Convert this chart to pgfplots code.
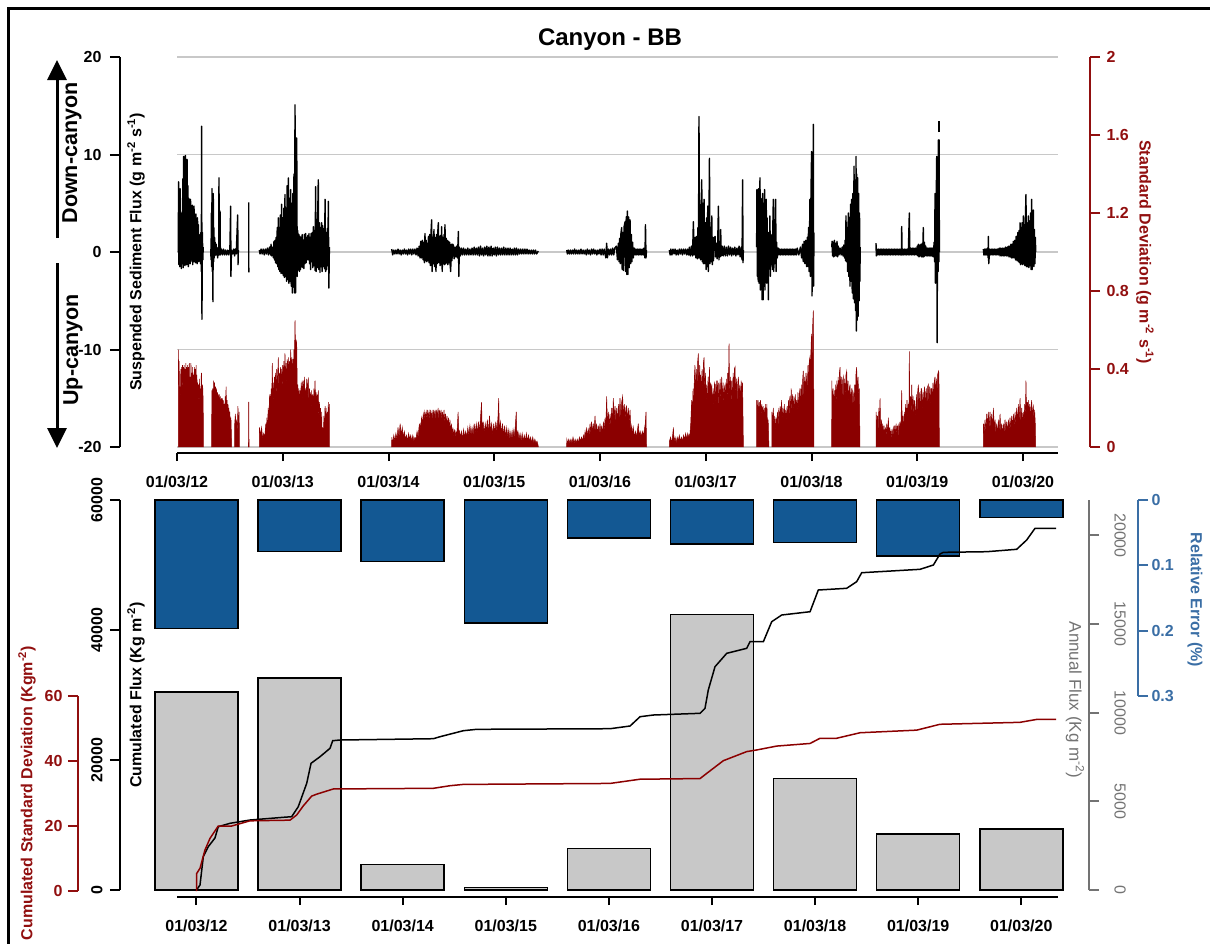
\documentclass[border=0pt]{standalone}
\usepackage{fontspec}
\setmainfont{Liberation Sans}
\usepackage{pgfplots}
\pgfplotsset{compat=1.18}
\usetikzlibrary{arrows.meta}

\definecolor{dred}{RGB}{139,0,0}
\definecolor{axred}{RGB}{145,15,15}
\definecolor{barblue}{RGB}{19,88,147}
\definecolor{axblue}{RGB}{58,110,165}
\definecolor{bargray}{RGB}{200,200,200}
\definecolor{axgray}{RGB}{115,115,115}
\definecolor{gridgray}{RGB}{200,200,200}

\newcommand\tkf{\fontsize{16}{19}\selectfont\bfseries}

\pgfplotsset{
  base/.style={scale only axis, clip=false, scaled ticks=false},
  dat/.style={base, hide axis},
  yax/.style={base, width=10pt, xmin=0, xmax=1, hide x axis, tick align=outside,
    major tick length=10pt, axis line style={line width=2pt}, tick style={line width=2pt}},
  xax/.style={base, height=10pt, ymin=0, ymax=1, hide y axis, axis x line*=bottom,
    tick align=outside, major tick length=8pt, axis line style={line width=2pt},
    tick style={line width=2pt, black}, xtick={0,...,8},
    xticklabels={01/03/12,01/03/13,01/03/14,01/03/15,01/03/16,01/03/17,01/03/18,01/03/19,01/03/20},
    xticklabel style={font=\tkf}, xticklabel shift=11pt},
  redfill/.style={draw=dred, fill=dred, line width=0.5pt},
  blk/.style={black, line width=1.4pt, line join=round},
}

\begin{document}
\begin{tikzpicture}
\useasboundingbox (0pt,0pt) rectangle (1210pt,-943pt);
\clip (0pt,0pt) rectangle (1210pt,-943pt);

% ================= TOP PANEL =================
% standard deviation (red) + grid
\begin{axis}[base, at={(177pt,-447pt)}, anchor=south west, width=881pt, height=390pt,
  xmin=0, xmax=8.331, ymin=0, ymax=2,
  axis line style={draw=none}, tick style={draw=none},
  xtick=\empty, ytick={0,0.5,1,1.5,2}, yticklabels={},
  ymajorgrids, grid style={gridgray, line width=1.6pt}]
\addplot[redfill] coordinates {(0.012,0) (0.013,0.50) (0.017,0.32) (0.020,0.44) (0.024,0.28) (0.028,0.31) (0.032,0.22) (0.036,0.40) (0.040,0.30) (0.044,0.41) (0.048,0.25) (0.052,0.42) (0.056,0.33) (0.060,0.41) (0.064,0.28) (0.068,0.42) (0.072,0.30) (0.076,0.40) (0.080,0.24) (0.084,0.43) (0.088,0.30) (0.092,0.41) (0.096,0.35) (0.100,0.42) (0.104,0.27) (0.108,0.41) (0.112,0.33) (0.116,0.43) (0.120,0.30) (0.124,0.36) (0.128,0.25) (0.132,0.43) (0.136,0.31) (0.140,0.38) (0.144,0.28) (0.148,0.41) (0.152,0.30) (0.156,0.37) (0.160,0.26) (0.164,0.41) (0.168,0.31) (0.172,0.40) (0.176,0.22) (0.180,0.42) (0.184,0.32) (0.188,0.37) (0.192,0.28) (0.196,0.33) (0.200,0.20) (0.204,0.32) (0.208,0.25) (0.212,0.35) (0.216,0.22) (0.220,0.30) (0.224,0.18) (0.228,0.36) (0.232,0.38) (0.236,0.25) (0.240,0.32) (0.244,0.30) (0.248,0.22) (0.249,0)};
\addplot[redfill] coordinates {(0.328,0) (0.329,0.29) (0.334,0.20) (0.338,0.30) (0.343,0.22) (0.347,0.34) (0.352,0.26) (0.356,0.33) (0.361,0.22) (0.365,0.31) (0.370,0.24) (0.374,0.30) (0.379,0.20) (0.383,0.28) (0.388,0.22) (0.392,0.27) (0.397,0.19) (0.401,0.27) (0.406,0.18) (0.410,0.26) (0.415,0.20) (0.419,0.25) (0.424,0.17) (0.428,0.25) (0.433,0.15) (0.437,0.24) (0.442,0.18) (0.446,0.22) (0.451,0.14) (0.455,0.26) (0.460,0.20) (0.464,0.31) (0.469,0.18) (0.473,0.24) (0.478,0.12) (0.482,0.22) (0.487,0.14) (0.491,0.20) (0.496,0.10) (0.500,0.18) (0.505,0.08) (0.510,0.15) (0.515,0.05) (0.517,0)};
\addplot[redfill] coordinates {(0.545,0) (0.546,0.12) (0.552,0.17) (0.558,0.10) (0.564,0.14) (0.570,0.06) (0.576,0.21) (0.582,0.12) (0.588,0.18) (0.590,0)};
\addplot[redfill] coordinates {(0.676,0) (0.677,0.23) (0.680,0.23) (0.681,0)};
\addplot[redfill] coordinates {(0.779,0) (0.780,0.10) (0.790,0.06) (0.800,0.10) (0.810,0.04) (0.820,0.07) (0.830,0.05) (0.840,0.12) (0.845,0.06) (0.850,0.15) (0.856,0.08) (0.862,0.20) (0.868,0.12) (0.874,0.25) (0.879,0.27) (0.884,0.15) (0.890,0.30) (0.895,0.20) (0.901,0.43) (0.906,0.25) (0.911,0.33) (0.916,0.22) (0.922,0.36) (0.927,0.28) (0.932,0.38) (0.937,0.25) (0.943,0.40) (0.948,0.30) (0.953,0.37) (0.958,0.46) (0.963,0.30) (0.969,0.38) (0.974,0.28) (0.979,0.41) (0.984,0.32) (0.990,0.40) (0.995,0.27) (1.000,0.42) (1.005,0.33) (1.011,0.44) (1.016,0.30) (1.021,0.48) (1.026,0.35) (1.032,0.43) (1.037,0.30) (1.042,0.45) (1.047,0.36) (1.053,0.46) (1.058,0.33) (1.064,0.44) (1.069,0.35) (1.075,0.50) (1.080,0.38) (1.086,0.46) (1.091,0.35) (1.096,0.45) (1.101,0.38) (1.106,0.50) (1.111,0.45) (1.116,0.65) (1.121,0.48) (1.126,0.55) (1.132,0.53) (1.137,0.30) (1.142,0.32) (1.147,0.22) (1.152,0.30) (1.158,0.20) (1.163,0.29) (1.168,0.22) (1.174,0.33) (1.179,0.24) (1.184,0.34) (1.190,0.22) (1.195,0.34) (1.200,0.25) (1.205,0.36) (1.210,0.24) (1.216,0.30) (1.221,0.20) (1.226,0.35) (1.232,0.22) (1.237,0.34) (1.242,0.35) (1.248,0.20) (1.253,0.30) (1.258,0.21) (1.263,0.28) (1.268,0.18) (1.273,0.29) (1.279,0.20) (1.284,0.27) (1.289,0.18) (1.295,0.30) (1.300,0.20) (1.305,0.34) (1.311,0.22) (1.316,0.28) (1.321,0.16) (1.326,0.27) (1.331,0.18) (1.336,0.29) (1.341,0.15) (1.347,0.23) (1.352,0.12) (1.357,0.20) (1.362,0.08) (1.368,0.18) (1.373,0.05) (1.378,0.10) (1.384,0.04) (1.389,0.16) (1.395,0.10) (1.400,0.21) (1.405,0.12) (1.410,0.20) (1.415,0.09) (1.421,0.18) (1.426,0.12) (1.431,0.23) (1.436,0.15) (1.441,0.22) (1.442,0)};
\addplot[redfill] coordinates {(2.030,0) (2.031,0.05) (2.040,0.02) (2.050,0.06) (2.060,0.03) (2.070,0.07) (2.080,0.04) (2.090,0.10) (2.100,0.05) (2.110,0.12) (2.120,0.06) (2.130,0.10) (2.140,0.05) (2.150,0.08) (2.160,0.04) (2.170,0.06) (2.180,0.03) (2.190,0.07) (2.200,0.04) (2.210,0.06) (2.220,0.03) (2.230,0.06) (2.240,0.03) (2.250,0.05) (2.260,0.04) (2.270,0.08) (2.280,0.05) (2.290,0.11) (2.298,0.12) (2.305,0.09) (2.312,0.15) (2.320,0.12) (2.329,0.17) (2.336,0.14) (2.343,0.18) (2.350,0.15) (2.357,0.18) (2.364,0.14) (2.371,0.19) (2.378,0.15) (2.385,0.18) (2.392,0.14) (2.399,0.19) (2.406,0.15) (2.413,0.18) (2.420,0.14) (2.427,0.19) (2.434,0.15) (2.441,0.19) (2.448,0.14) (2.455,0.19) (2.462,0.15) (2.469,0.20) (2.476,0.14) (2.483,0.19) (2.490,0.15) (2.497,0.19) (2.504,0.14) (2.511,0.18) (2.518,0.13) (2.525,0.19) (2.532,0.12) (2.539,0.17) (2.546,0.11) (2.553,0.16) (2.560,0.10) (2.567,0.15) (2.574,0.09) (2.581,0.14) (2.588,0.07) (2.595,0.12) (2.602,0.06) (2.609,0.10) (2.616,0.05) (2.623,0.09) (2.630,0.05) (2.637,0.08) (2.645,0.06) (2.652,0.11) (2.658,0.18) (2.664,0.09) (2.672,0.08) (2.680,0.05) (2.690,0.08) (2.700,0.04) (2.710,0.09) (2.720,0.05) (2.730,0.08) (2.740,0.05) (2.750,0.10) (2.760,0.06) (2.770,0.11) (2.780,0.06) (2.790,0.10) (2.800,0.06) (2.810,0.12) (2.820,0.07) (2.830,0.12) (2.840,0.07) (2.850,0.13) (2.860,0.08) (2.870,0.15) (2.880,0.23) (2.886,0.08) (2.895,0.13) (2.905,0.07) (2.915,0.12) (2.925,0.08) (2.935,0.14) (2.945,0.07) (2.955,0.16) (2.965,0.08) (2.975,0.12) (2.985,0.06) (2.995,0.12) (3.005,0.07) (3.015,0.13) (3.025,0.08) (3.035,0.15) (3.042,0.25) (3.048,0.09) (3.058,0.13) (3.068,0.07) (3.078,0.12) (3.088,0.06) (3.098,0.11) (3.108,0.05) (3.118,0.10) (3.128,0.05) (3.138,0.09) (3.148,0.04) (3.158,0.08) (3.168,0.04) (3.178,0.09) (3.188,0.05) (3.198,0.10) (3.208,0.18) (3.214,0.06) (3.224,0.08) (3.234,0.04) (3.244,0.07) (3.254,0.03) (3.264,0.07) (3.274,0.03) (3.284,0.06) (3.294,0.03) (3.304,0.07) (3.314,0.03) (3.324,0.06) (3.334,0.03) (3.344,0.05) (3.354,0.02) (3.364,0.05) (3.374,0.02) (3.384,0.04) (3.394,0.02) (3.404,0.03) (3.414,0.01) (3.417,0)};
\addplot[redfill] coordinates {(3.685,0) (3.686,0.04) (3.695,0.02) (3.705,0.04) (3.715,0.02) (3.725,0.04) (3.735,0.02) (3.745,0.05) (3.755,0.02) (3.765,0.04) (3.775,0.02) (3.785,0.04) (3.795,0.02) (3.805,0.05) (3.815,0.03) (3.825,0.05) (3.835,0.03) (3.843,0.06) (3.851,0.04) (3.859,0.08) (3.866,0.05) (3.874,0.10) (3.882,0.05) (3.890,0.09) (3.898,0.06) (3.906,0.12) (3.913,0.06) (3.920,0.13) (3.928,0.07) (3.936,0.12) (3.944,0.08) (3.953,0.16) (3.960,0.08) (3.968,0.12) (3.976,0.06) (3.984,0.11) (3.992,0.07) (4.000,0.12) (4.008,0.07) (4.016,0.11) (4.024,0.06) (4.032,0.13) (4.040,0.08) (4.048,0.15) (4.055,0.10) (4.063,0.26) (4.070,0.12) (4.079,0.18) (4.087,0.10) (4.095,0.17) (4.103,0.11) (4.111,0.20) (4.118,0.12) (4.126,0.25) (4.134,0.14) (4.142,0.21) (4.150,0.13) (4.158,0.20) (4.166,0.12) (4.174,0.22) (4.181,0.14) (4.189,0.25) (4.197,0.15) (4.205,0.23) (4.214,0.26) (4.222,0.15) (4.230,0.22) (4.238,0.14) (4.245,0.20) (4.252,0.21) (4.260,0.13) (4.268,0.20) (4.276,0.12) (4.284,0.19) (4.292,0.08) (4.300,0.11) (4.308,0.06) (4.315,0.10) (4.325,0.05) (4.335,0.08) (4.345,0.05) (4.355,0.09) (4.362,0.12) (4.370,0.06) (4.380,0.08) (4.390,0.05) (4.400,0.08) (4.410,0.06) (4.420,0.09) (4.428,0.12) (4.435,0.18) (4.440,0)};
\addplot[redfill] coordinates {(4.656,0) (4.657,0.03) (4.667,0.05) (4.677,0.02) (4.687,0.06) (4.694,0.10) (4.700,0.03) (4.710,0.05) (4.720,0.02) (4.730,0.05) (4.740,0.03) (4.750,0.06) (4.760,0.03) (4.770,0.05) (4.780,0.03) (4.790,0.06) (4.800,0.04) (4.810,0.07) (4.820,0.04) (4.830,0.07) (4.840,0.05) (4.851,0.07) (4.858,0.12) (4.867,0.24) (4.873,0.15) (4.880,0.30) (4.886,0.18) (4.892,0.35) (4.898,0.42) (4.904,0.25) (4.911,0.40) (4.917,0.28) (4.924,0.44) (4.930,0.48) (4.936,0.30) (4.943,0.42) (4.949,0.30) (4.952,0.37) (4.958,0.25) (4.965,0.40) (4.971,0.28) (4.978,0.43) (4.984,0.46) (4.990,0.28) (4.997,0.38) (5.003,0.22) (5.009,0.32) (5.016,0.20) (5.022,0.36) (5.028,0.25) (5.035,0.41) (5.041,0.22) (5.047,0.33) (5.053,0.20) (5.057,0.32) (5.064,0.18) (5.070,0.30) (5.077,0.20) (5.083,0.33) (5.088,0.32) (5.094,0.20) (5.100,0.34) (5.106,0.22) (5.110,0.34) (5.117,0.20) (5.123,0.33) (5.130,0.22) (5.136,0.35) (5.142,0.23) (5.151,0.36) (5.157,0.22) (5.164,0.33) (5.170,0.20) (5.176,0.30) (5.183,0.32) (5.189,0.20) (5.195,0.35) (5.201,0.22) (5.208,0.38) (5.214,0.25) (5.220,0.53) (5.226,0.25) (5.233,0.36) (5.240,0.22) (5.246,0.34) (5.252,0.24) (5.259,0.38) (5.265,0.25) (5.271,0.40) (5.277,0.41) (5.283,0.25) (5.290,0.35) (5.296,0.22) (5.303,0.33) (5.309,0.36) (5.315,0.24) (5.322,0.32) (5.328,0.22) (5.335,0.34) (5.340,0.28) (5.348,0.33) (5.356,0)};
\addplot[redfill] coordinates {(5.481,0) (5.482,0.24) (5.488,0.18) (5.494,0.24) (5.500,0.16) (5.506,0.23) (5.512,0.17) (5.518,0.24) (5.524,0.15) (5.530,0.22) (5.536,0.16) (5.542,0.21) (5.548,0.14) (5.554,0.20) (5.560,0.12) (5.566,0.22) (5.572,0.13) (5.578,0.22) (5.584,0.10) (5.590,0.14) (5.595,0.05) (5.597,0)};
\addplot[redfill] coordinates {(5.625,0) (5.626,0.18) (5.632,0.12) (5.639,0.20) (5.645,0.10) (5.652,0.16) (5.658,0.08) (5.665,0.15) (5.671,0.12) (5.678,0.18) (5.684,0.10) (5.691,0.20) (5.697,0.12) (5.704,0.21) (5.710,0.14) (5.717,0.24) (5.723,0.13) (5.730,0.20) (5.736,0.12) (5.743,0.22) (5.749,0.13) (5.756,0.19) (5.762,0.13) (5.769,0.21) (5.775,0.14) (5.782,0.24) (5.788,0.15) (5.795,0.26) (5.801,0.17) (5.808,0.30) (5.814,0.18) (5.821,0.27) (5.827,0.17) (5.834,0.26) (5.840,0.16) (5.847,0.27) (5.853,0.18) (5.859,0.24) (5.866,0.17) (5.872,0.28) (5.879,0.18) (5.885,0.27) (5.891,0.30) (5.897,0.20) (5.904,0.32) (5.910,0.22) (5.916,0.34) (5.922,0.39) (5.928,0.24) (5.935,0.36) (5.941,0.25) (5.948,0.38) (5.954,0.34) (5.960,0.30) (5.967,0.42) (5.973,0.32) (5.979,0.44) (5.985,0.46) (5.991,0.38) (5.996,0.52) (6.001,0.58) (6.006,0.45) (6.011,0.62) (6.017,0.70) (6.020,0.50) (6.023,0)};
\addplot[redfill] coordinates {(6.191,0) (6.192,0.34) (6.198,0.20) (6.204,0.30) (6.210,0.18) (6.216,0.29) (6.222,0.17) (6.228,0.32) (6.234,0.20) (6.240,0.34) (6.246,0.22) (6.252,0.36) (6.258,0.24) (6.264,0.38) (6.270,0.41) (6.276,0.25) (6.282,0.36) (6.288,0.22) (6.294,0.34) (6.301,0.36) (6.307,0.22) (6.313,0.35) (6.319,0.24) (6.326,0.37) (6.333,0.39) (6.339,0.24) (6.345,0.34) (6.351,0.22) (6.358,0.30) (6.364,0.32) (6.370,0.20) (6.377,0.30) (6.383,0.20) (6.390,0.29) (6.396,0.27) (6.402,0.20) (6.409,0.32) (6.415,0.24) (6.421,0.38) (6.427,0.41) (6.433,0.28) (6.440,0.36) (6.446,0.25) (6.452,0.30) (6.456,0.12) (6.458,0)};
\addplot[redfill] coordinates {(6.610,0) (6.611,0.18) (6.617,0.10) (6.624,0.16) (6.630,0.08) (6.637,0.20) (6.643,0.12) (6.648,0.25) (6.654,0.10) (6.661,0.14) (6.667,0.07) (6.673,0.12) (6.679,0.06) (6.686,0.11) (6.692,0.05) (6.699,0.10) (6.705,0.05) (6.712,0.12) (6.718,0.06) (6.727,0.15) (6.733,0.06) (6.740,0.10) (6.746,0.05) (6.753,0.09) (6.759,0.04) (6.766,0.08) (6.774,0.10) (6.780,0.05) (6.787,0.11) (6.793,0.06) (6.800,0.12) (6.806,0.06) (6.813,0.11) (6.819,0.05) (6.826,0.12) (6.832,0.07) (6.837,0.13) (6.845,0.09) (6.853,0.29) (6.858,0.10) (6.865,0.16) (6.871,0.08) (6.878,0.18) (6.884,0.13) (6.890,0.22) (6.896,0.12) (6.903,0.24) (6.909,0.14) (6.915,0.22) (6.921,0.15) (6.925,0.49) (6.930,0.18) (6.936,0.26) (6.942,0.16) (6.948,0.32) (6.954,0.18) (6.961,0.26) (6.967,0.15) (6.973,0.24) (6.980,0.20) (6.986,0.14) (6.992,0.27) (6.998,0.16) (7.005,0.29) (7.011,0.32) (7.017,0.18) (7.023,0.28) (7.030,0.17) (7.036,0.30) (7.042,0.30) (7.048,0.18) (7.055,0.28) (7.061,0.19) (7.067,0.31) (7.073,0.29) (7.080,0.19) (7.086,0.30) (7.092,0.20) (7.099,0.31) (7.105,0.32) (7.111,0.20) (7.118,0.31) (7.124,0.21) (7.130,0.30) (7.137,0.30) (7.143,0.22) (7.149,0.33) (7.155,0.24) (7.162,0.34) (7.168,0.36) (7.174,0.25) (7.181,0.35) (7.187,0.27) (7.193,0.37) (7.200,0.39) (7.205,0.38) (7.209,0)};
\addplot[redfill] coordinates {(7.625,0) (7.626,0.12) (7.633,0.07) (7.641,0.14) (7.649,0.08) (7.657,0.17) (7.665,0.10) (7.672,0.18) (7.680,0.09) (7.688,0.18) (7.696,0.10) (7.704,0.17) (7.712,0.09) (7.720,0.20) (7.728,0.10) (7.736,0.14) (7.743,0.07) (7.751,0.12) (7.759,0.06) (7.767,0.14) (7.775,0.08) (7.783,0.17) (7.790,0.08) (7.798,0.12) (7.806,0.06) (7.814,0.12) (7.822,0.07) (7.830,0.14) (7.838,0.08) (7.846,0.13) (7.854,0.07) (7.862,0.14) (7.870,0.08) (7.877,0.15) (7.885,0.09) (7.893,0.16) (7.901,0.10) (7.909,0.17) (7.917,0.10) (7.925,0.18) (7.932,0.11) (7.940,0.20) (7.948,0.12) (7.956,0.22) (7.964,0.13) (7.972,0.25) (7.980,0.12) (7.988,0.20) (7.996,0.12) (8.003,0.18) (8.010,0.12) (8.016,0.22) (8.022,0.14) (8.028,0.34) (8.034,0.15) (8.040,0.23) (8.045,0.14) (8.050,0.24) (8.056,0.15) (8.063,0.22) (8.070,0.14) (8.076,0.21) (8.082,0.24) (8.088,0.14) (8.094,0.20) (8.098,0.21) (8.104,0.13) (8.110,0.19) (8.116,0.12) (8.120,0)};
\end{axis}

% suspended sediment flux (black)
\begin{axis}[dat, at={(177pt,-447pt)}, anchor=south west, width=881pt, height=390pt,
  xmin=0, xmax=8.331, ymin=-20, ymax=20]
\addplot[blk] coordinates {(0.012,0) (0.015,7.2) (0.018,-1.3) (0.022,3) (0.026,-1.5) (0.030,6.5) (0.034,-1.4) (0.038,2.5) (0.042,-1.7) (0.046,4) (0.050,-1.2) (0.055,7.5) (0.059,-1.6) (0.063,9.8) (0.067,-1.2) (0.071,5) (0.075,-1.4) (0.079,9.9) (0.083,-1) (0.087,6) (0.091,-1.3) (0.095,9.5) (0.099,-1.1) (0.103,6.8) (0.107,-1.5) (0.112,5.5) (0.116,-0.9) (0.120,4.2) (0.124,-1.2) (0.128,5.4) (0.132,-1) (0.137,3.5) (0.141,-0.8) (0.145,4.8) (0.149,-1.3) (0.153,3) (0.157,-1) (0.161,4.7) (0.165,-0.8) (0.170,3.2) (0.174,-1.1) (0.178,3.9) (0.182,-0.9) (0.186,2.5) (0.190,-1.2) (0.194,3.5) (0.198,-0.8) (0.202,2.8) (0.206,-1) (0.210,1.5) (0.214,-0.6) (0.218,1.8) (0.222,-1.2) (0.226,2) (0.230,-2) (0.233,12.9) (0.236,-6.9) (0.240,2) (0.244,-0.8) (0.248,0.5)};
\addplot[blk] coordinates {(0.319,0.3) (0.322,-0.8) (0.325,4) (0.328,-1.5) (0.331,6.5) (0.334,-2) (0.337,3) (0.340,-5.1) (0.343,6) (0.346,-1) (0.349,2.5) (0.352,-0.6) (0.355,1.5) (0.358,-0.4) (0.362,1) (0.365,-0.3) (0.370,0.8) (0.374,-0.3) (0.380,0.4) (0.385,-0.6) (0.390,0.5) (0.394,-0.3) (0.397,7.6) (0.400,-0.3) (0.407,4.2) (0.410,-0.3) (0.420,0.3) (0.430,-0.3) (0.440,0.3) (0.450,-0.3) (0.460,0.2) (0.470,-0.3) (0.480,0.2) (0.490,-0.3) (0.500,0.3) (0.5075,4.7) (0.510,-2.5) (0.515,0.2) (0.525,-0.2) (0.535,0.3) (0.545,-0.4) (0.552,0.3) (0.560,-0.2) (0.574,3.8) (0.577,-1.3) (0.580,0.2)};
\addplot[blk] coordinates {(0.678,5.1) (0.679,-2.1)};
\addplot[blk] coordinates {(0.779,0.2) (0.785,-0.2) (0.795,0.3) (0.805,-0.2) (0.815,0.3) (0.825,-0.3) (0.835,0.3) (0.845,-0.2) (0.855,0.4) (0.865,-0.3) (0.875,0.5) (0.885,-0.3) (0.889,0.8) (0.895,-0.4) (0.905,0.5) (0.911,-0.6) (0.917,1.1) (0.922,-0.8) (0.927,1.2) (0.932,-1.1) (0.938,1.5) (0.942,-1.2) (0.948,2.5) (0.953,-1.5) (0.958,3.5) (0.963,-1.8) (0.968,2.5) (0.973,-2) (0.978,3.8) (0.984,-2.2) (0.990,4.9) (0.995,-2.2) (1.000,3.5) (1.005,-2.4) (1.011,4.5) (1.016,-2.6) (1.021,5.9) (1.026,-2.5) (1.032,4.5) (1.037,-3) (1.042,6.8) (1.047,-2.8) (1.053,7.6) (1.058,-3.2) (1.064,5.5) (1.069,-3) (1.075,6.4) (1.080,-3.5) (1.086,5) (1.091,-4.2) (1.096,6) (1.101,-3.6) (1.106,8) (1.111,-4.2) (1.116,15.1) (1.121,-4.2) (1.126,9) (1.132,11.7) (1.137,-2.5) (1.142,2.2) (1.147,-1.8) (1.152,1.8) (1.158,-2) (1.163,1.6) (1.168,-1.8) (1.174,1.5) (1.179,-1.5) (1.184,1.8) (1.190,-1.6) (1.195,1.2) (1.200,-1.7) (1.205,1.8) (1.210,-1.2) (1.216,1.9) (1.221,-1.1) (1.226,1.5) (1.232,-0.8) (1.237,1.7) (1.242,-0.8) (1.248,1.9) (1.253,-1.2) (1.258,1.5) (1.263,-1.8) (1.268,1.9) (1.273,-1) (1.279,2) (1.284,-1.6) (1.289,2.6) (1.295,-1.4) (1.300,2.2) (1.305,-1.9) (1.311,6.7) (1.316,-2) (1.321,3) (1.326,-1.6) (1.331,4) (1.336,7.4) (1.341,-1.8) (1.347,3) (1.352,-2.1) (1.357,2.5) (1.362,-1.5) (1.368,3) (1.373,-2) (1.378,2.7) (1.384,-1.5) (1.389,2.4) (1.395,-1.7) (1.400,5.4) (1.405,-2) (1.410,2) (1.415,-1.8) (1.421,2.4) (1.426,-1.4) (1.431,5.2) (1.436,-3.7) (1.441,0.5)};
\addplot[blk] coordinates {(2.030,0.3) (2.040,-0.3) (2.050,0.2) (2.060,-0.2) (2.070,0.2) (2.080,-0.2) (2.090,0.3) (2.100,-0.2) (2.110,0.2) (2.120,-0.3) (2.130,0.2) (2.140,-0.2) (2.150,0.3) (2.160,-0.2) (2.170,0.2) (2.180,-0.3) (2.190,0.3) (2.200,-0.2) (2.210,0.3) (2.220,-0.3) (2.230,0.3) (2.240,-0.2) (2.250,0.3) (2.260,-0.3) (2.270,0.4) (2.280,-0.4) (2.290,0.6) (2.298,-0.6) (2.305,1.1) (2.312,-0.6) (2.320,1.2) (2.328,-0.8) (2.335,1) (2.340,-1.1) (2.345,1.9) (2.350,-0.9) (2.356,1.2) (2.362,-1) (2.367,0.9) (2.372,-0.9) (2.378,1.6) (2.384,-1.1) (2.390,1.8) (2.396,-1.4) (2.402,2) (2.408,3.3) (2.413,-2) (2.418,1.5) (2.424,-1.2) (2.430,2.3) (2.436,-1.5) (2.441,1.5) (2.449,-2) (2.455,1.8) (2.461,-1.2) (2.466,2) (2.471,3) (2.476,-1.1) (2.482,1.6) (2.488,-1.4) (2.493,1.7) (2.498,-1.3) (2.503,2.6) (2.508,-2) (2.514,1.5) (2.519,-1.2) (2.525,1.8) (2.530,-1.3) (2.534,2.8) (2.540,-1.2) (2.546,1.4) (2.551,-1.1) (2.556,1.2) (2.561,-1.3) (2.566,1.1) (2.572,-1.1) (2.578,1) (2.583,-1.3) (2.588,-2) (2.594,0.8) (2.600,-0.9) (2.606,0.8) (2.613,0.7) (2.620,-0.7) (2.628,0.5) (2.636,-0.5) (2.645,0.6) (2.652,-0.6) (2.661,2.1) (2.665,-2.5) (2.670,0.5) (2.680,-0.4) (2.690,0.4) (2.700,-0.3) (2.710,0.4) (2.720,-0.3) (2.730,0.3) (2.740,-0.3) (2.750,0.4) (2.760,-0.3) (2.770,0.3) (2.780,-0.3) (2.790,0.4) (2.800,-0.3) (2.810,0.5) (2.820,-0.3) (2.830,0.4) (2.840,-0.3) (2.850,0.5) (2.860,-0.4) (2.870,0.6) (2.880,-0.3) (2.890,0.4) (2.900,-0.4) (2.910,0.5) (2.920,-0.3) (2.930,0.6) (2.940,-0.4) (2.950,0.5) (2.960,-0.4) (2.970,0.6) (2.980,-0.4) (2.990,0.4) (3.000,-0.3) (3.010,0.5) (3.020,-0.4) (3.030,0.5) (3.040,-0.3) (3.050,0.4) (3.060,-0.3) (3.070,0.4) (3.080,-0.3) (3.090,0.5) (3.100,-0.3) (3.110,0.4) (3.120,-0.3) (3.130,0.4) (3.140,-0.3) (3.150,0.4) (3.160,-0.3) (3.170,0.3) (3.180,-0.3) (3.190,0.4) (3.200,-0.3) (3.210,0.4) (3.220,-0.3) (3.230,0.3) (3.240,-0.2) (3.250,0.3) (3.260,-0.2) (3.270,0.3) (3.280,-0.2) (3.290,0.3) (3.300,-0.2) (3.310,0.3) (3.320,-0.2) (3.330,0.2) (3.340,-0.2) (3.350,0.2) (3.360,-0.2) (3.370,0.2) (3.380,-0.2) (3.390,0.2) (3.400,-0.2) (3.417,0.1)};
\addplot[blk] coordinates {(3.685,0.2) (3.692,-0.2) (3.700,0.2) (3.710,-0.2) (3.720,0.2) (3.730,-0.2) (3.740,0.2) (3.750,-0.2) (3.760,0.3) (3.770,-0.2) (3.780,0.2) (3.790,-0.2) (3.800,0.2) (3.810,-0.2) (3.820,0.3) (3.830,-0.2) (3.840,0.2) (3.850,-0.2) (3.860,0.2) (3.870,-0.3) (3.880,0.3) (3.890,-0.2) (3.900,0.2) (3.910,-0.3) (3.920,0.3) (3.930,-0.2) (3.940,0.3) (3.950,-0.2) (3.960,0.2) (3.970,-0.3) (3.980,0.2) (3.990,-0.2) (4.000,0.3) (4.010,-0.3) (4.020,0.3) (4.030,-0.3) (4.040,0.3) (4.055,-0.6) (4.063,0.9) (4.070,-0.6) (4.080,0.3) (4.090,-0.3) (4.100,0.3) (4.110,-0.3) (4.120,0.4) (4.130,-0.3) (4.140,0.4) (4.155,0.6) (4.165,-0.8) (4.174,0.9) (4.180,-1) (4.186,1.4) (4.192,-1.2) (4.198,1.9) (4.205,2.5) (4.210,-1.8) (4.216,2) (4.222,-1.9) (4.228,2.6) (4.237,3.1) (4.242,-2) (4.248,3.6) (4.254,-2.3) (4.259,4.2) (4.264,-2.3) (4.270,3.6) (4.276,-1.6) (4.284,3.3) (4.290,-1.2) (4.296,1.8) (4.302,-1) (4.308,1) (4.315,-0.6) (4.325,0.4) (4.333,-0.3) (4.340,0.3) (4.348,-0.3) (4.355,0.3) (4.363,-0.3) (4.370,0.3) (4.378,-0.3) (4.385,0.3) (4.393,-0.3) (4.400,0.3) (4.408,-0.3) (4.415,0.4) (4.425,-0.6) (4.430,2.8) (4.435,-0.6) (4.440,0.2)};
\addplot[blk] coordinates {(4.656,0.2) (4.663,-0.3) (4.670,0.3) (4.680,-0.3) (4.690,0.3) (4.700,-0.2) (4.710,0.3) (4.720,-0.3) (4.730,0.2) (4.740,-0.3) (4.750,0.3) (4.760,-0.2) (4.770,0.3) (4.780,-0.3) (4.790,0.3) (4.800,-0.2) (4.810,0.3) (4.820,-0.3) (4.830,0.3) (4.838,-0.3) (4.845,0.5) (4.855,-0.4) (4.865,0.6) (4.875,-0.4) (4.883,3.1) (4.890,-0.3) (4.900,1.5) (4.907,-0.6) (4.914,1.6) (4.920,-0.7) (4.926,2.5) (4.931,-0.6) (4.936,13.9) (4.941,-0.6) (4.947,4) (4.952,-0.8) (4.957,5) (4.962,7.4) (4.967,-1) (4.973,5) (4.978,-1.2) (4.984,5.4) (4.990,-1.2) (4.996,3) (5.003,-1.8) (5.008,3.5) (5.013,-1.5) (5.019,4.7) (5.024,-2) (5.030,3) (5.035,9.6) (5.040,-1.2) (5.046,2.5) (5.051,-1) (5.057,3.7) (5.062,-1.3) (5.068,1.5) (5.073,-0.9) (5.080,1.4) (5.088,1.6) (5.094,-0.5) (5.100,0.9) (5.107,-0.7) (5.113,1) (5.120,4.7) (5.125,-0.8) (5.131,0.8) (5.136,-0.5) (5.141,2.3) (5.147,-0.4) (5.155,0.6) (5.165,-0.4) (5.175,0.6) (5.185,-0.4) (5.195,0.5) (5.205,-0.4) (5.215,0.6) (5.225,-0.3) (5.235,0.5) (5.245,-0.4) (5.255,0.4) (5.265,-0.3) (5.275,0.5) (5.285,-0.4) (5.295,0.4) (5.305,-0.3) (5.315,0.6) (5.325,-0.5) (5.335,0.5) (5.343,-0.8) (5.349,7.4) (5.352,-1.1) (5.356,0.2)};
\addplot[blk] coordinates {(5.481,0.5) (5.484,6.4) (5.488,-2.5) (5.492,5) (5.496,-3) (5.500,6.5) (5.504,-3.2) (5.508,5) (5.513,7.6) (5.517,-3.9) (5.521,5.5) (5.525,-3.5) (5.529,5) (5.533,-4.9) (5.538,6) (5.542,-4.9) (5.547,5) (5.551,-3.5) (5.556,6.4) (5.560,-3.9) (5.564,4.5) (5.568,-3) (5.572,5.4) (5.576,-3.2) (5.580,3.5) (5.584,-2.5) (5.588,2) (5.592,-4.9) (5.596,2) (5.600,-1.5) (5.604,1) (5.607,3.7) (5.611,-2.5) (5.616,1.5) (5.621,-1.3) (5.626,1.8) (5.631,-1.8) (5.635,3) (5.639,5.4) (5.643,-2) (5.648,2) (5.652,-1.2) (5.657,3.7) (5.661,5.4) (5.665,-2) (5.670,1) (5.676,-0.6) (5.686,0.4) (5.693,-0.3) (5.700,0.3) (5.708,-0.3) (5.715,0.3) (5.723,-0.3) (5.730,0.3) (5.738,-0.3) (5.745,0.3) (5.753,-0.3) (5.760,0.3) (5.768,-0.3) (5.775,0.3) (5.783,-0.3) (5.790,0.3) (5.798,-0.3) (5.805,0.3) (5.813,-0.3) (5.820,0.3) (5.828,-0.3) (5.835,0.3) (5.843,-0.3) (5.850,0.3) (5.858,-0.3) (5.865,0.4) (5.880,-0.3) (5.895,0.5) (5.907,-0.6) (5.915,0.8) (5.922,-1) (5.930,1.1) (5.938,-1.2) (5.946,1.2) (5.954,-1.5) (5.960,1.5) (5.966,-1.5) (5.972,2.5) (5.978,-2) (5.985,5.4) (5.990,-2.5) (5.995,6) (6.001,10.3) (6.005,-4.5) (6.009,8) (6.013,-3.5) (6.017,13.1) (6.020,-3.5) (6.023,2)};
\addplot[blk] coordinates {(6.191,0.5) (6.195,1.1) (6.199,-0.4) (6.205,1) (6.211,-0.5) (6.217,1.2) (6.223,-0.4) (6.229,0.9) (6.235,-0.4) (6.241,1.1) (6.247,-0.5) (6.253,0.6) (6.260,-0.3) (6.270,0.4) (6.280,-0.3) (6.290,0.5) (6.298,-0.4) (6.305,0.7) (6.312,-0.6) (6.318,1.2) (6.323,-0.9) (6.326,3.7) (6.331,-1) (6.336,2.5) (6.341,-2) (6.348,4) (6.352,-2.5) (6.358,3.5) (6.364,-3.5) (6.369,4.9) (6.374,-3) (6.380,5.4) (6.385,-4.2) (6.391,6) (6.396,-4.8) (6.402,8.8) (6.407,-5.2) (6.412,7) (6.416,-6) (6.421,9.8) (6.424,-8.1) (6.428,8) (6.432,-7) (6.437,7.6) (6.441,-6.6) (6.446,6) (6.450,-5) (6.454,4) (6.458,-3) (6.460,0.5)};
\addplot[blk] coordinates {(6.610,0.9) (6.613,-0.4) (6.620,0.3) (6.628,-0.3) (6.635,0.3) (6.643,-0.3) (6.650,0.3) (6.658,-0.3) (6.665,0.3) (6.673,-0.3) (6.680,0.3) (6.688,-0.3) (6.695,0.3) (6.703,-0.3) (6.710,0.3) (6.718,-0.3) (6.725,0.3) (6.733,-0.3) (6.740,0.3) (6.748,-0.3) (6.755,0.3) (6.763,-0.3) (6.770,0.3) (6.778,-0.3) (6.785,0.3) (6.793,-0.3) (6.800,0.3) (6.808,-0.3) (6.815,0.3) (6.823,-0.3) (6.830,0.3) (6.838,-0.3) (6.845,0.3) (6.850,-0.3) (6.853,2.6) (6.857,-0.3) (6.863,0.3) (6.870,-0.3) (6.878,0.3) (6.885,-0.3) (6.893,0.3) (6.900,-0.3) (6.908,0.3) (6.915,-0.3) (6.925,4) (6.930,-0.3) (6.938,0.4) (6.945,-0.3) (6.953,0.4) (6.960,-0.3) (6.968,0.4) (6.975,-0.3) (6.983,0.4) (6.990,-0.3) (7.000,0.6) (7.006,-0.4) (7.011,0.8) (7.017,-0.5) (7.023,0.7) (7.029,-0.4) (7.035,0.8) (7.041,-0.5) (7.047,0.9) (7.052,-0.5) (7.057,2.5) (7.062,-0.5) (7.068,1) (7.074,-0.4) (7.080,0.6) (7.089,-0.4) (7.095,0.4) (7.100,-0.4) (7.105,0.4) (7.110,-0.4) (7.115,0.4) (7.120,-0.4) (7.125,0.4) (7.130,-0.4) (7.135,0.4) (7.140,-0.4) (7.145,0.4) (7.150,-0.5) (7.160,1) (7.165,-1) (7.168,6) (7.172,-3.2) (7.178,4) (7.184,9.8) (7.188,-9.3) (7.193,8) (7.197,-2) (7.200,11.5) (7.204,-1) (7.207,11.5) (7.209,0)};
\addplot[blk] coordinates {(7.205,12.3) (7.205,13.4)};
\addplot[blk] coordinates {(7.625,0.3) (7.630,-0.3) (7.635,0.3) (7.640,-0.3) (7.645,0.3) (7.650,-0.3) (7.655,0.3) (7.660,-0.3) (7.665,0.4) (7.670,-0.6) (7.672,1.6) (7.676,-1.2) (7.685,0.3) (7.693,-0.3) (7.700,0.3) (7.708,-0.3) (7.715,0.3) (7.723,-0.3) (7.730,0.3) (7.738,-0.3) (7.745,0.3) (7.753,-0.3) (7.760,0.3) (7.768,-0.3) (7.775,0.4) (7.783,-0.4) (7.790,0.4) (7.798,-0.4) (7.805,0.4) (7.813,-0.4) (7.820,0.4) (7.828,-0.4) (7.835,0.5) (7.843,-0.4) (7.850,0.5) (7.856,-0.4) (7.862,0.6) (7.868,-0.5) (7.874,0.6) (7.880,-0.5) (7.886,0.8) (7.891,-0.6) (7.897,0.8) (7.902,-0.6) (7.908,1.1) (7.915,-0.6) (7.922,1.2) (7.929,-0.8) (7.935,1.6) (7.940,1.6) (7.945,-0.9) (7.951,2) (7.957,-1) (7.963,2.2) (7.968,-1.1) (7.972,3) (7.977,-1.3) (7.982,2.5) (7.987,-1.2) (7.992,3) (7.997,-1.3) (8.003,3.7) (8.008,-1.2) (8.013,2.8) (8.018,-1.4) (8.023,3.5) (8.028,5.9) (8.033,-1.5) (8.038,3) (8.043,-1.5) (8.050,3.7) (8.055,-1.6) (8.060,3.2) (8.066,-1.4) (8.072,4) (8.077,-1.8) (8.082,5.4) (8.087,-1.8) (8.092,3.2) (8.098,4.3) (8.103,-1.5) (8.108,2.3) (8.113,-1.2) (8.117,1.5) (8.120,0)};
\end{axis}

% top: left y axis (flux)
\begin{axis}[yax, at={(120pt,-447pt)}, anchor=south west, height=390pt,
  ymin=-20, ymax=20, axis y line*=left, ytick={-20,-10,0,10,20},
  yticklabels={-20,-10,0,10,20}, tick style={black},
  yticklabel style={font=\tkf}, yticklabel shift=5pt]
\end{axis}
% top: right y axis (standard deviation)
\begin{axis}[yax, at={(1090pt,-447pt)}, anchor=south east, height=390pt,
  ymin=0, ymax=2, axis y line*=right, ytick={0,0.4,0.8,1.2,1.6,2},
  yticklabels={0,0.4,0.8,1.2,1.6,2}, axis line style={axred}, tick style={axred},
  yticklabel style={font=\tkf, text=axred}, yticklabel shift=3pt]
\end{axis}
% top: x axis
\begin{axis}[xax, at={(177pt,-453pt)}, anchor=south west, width=881pt, xmin=0, xmax=8.331]
\end{axis}

% ================= BOTTOM PANEL =================
% annual flux (gray bars)
\begin{axis}[dat, at={(177pt,-890pt)}, anchor=south west, width=881pt, height=390pt,
  xmin=-0.1891, xmax=8.356, ymin=0, ymax=22000]
\addplot[ybar, bar width=83pt, fill=bargray, draw=black, line width=1.5pt]
  coordinates {(0,11180) (1,11970) (2,1450) (3,150) (4,2350) (5,15550) (6,6300) (7,3150) (8,3450)};
\end{axis}
% relative error (blue bars, hanging)
\begin{axis}[dat, at={(177pt,-696pt)}, anchor=south west, width=881pt, height=196pt,
  xmin=-0.1891, xmax=8.356, ymin=0, ymax=0.3, y dir=reverse]
\addplot[ybar, bar width=83pt, fill=barblue, draw=black, line width=1.5pt]
  coordinates {(0,0.197) (1,0.079) (2,0.094) (3,0.188) (4,0.058) (5,0.067) (6,0.065) (7,0.086) (8,0.027)};
\end{axis}
% cumulated flux (black line)
\begin{axis}[dat, at={(177pt,-890pt)}, anchor=south west, width=881pt, height=390pt,
  xmin=-0.1891, xmax=8.356, ymin=0, ymax=60000]
\addplot[black, line width=1.5pt] coordinates {(0,0) (0.034,769) (0.066,5123) (0.114,6662) (0.179,8000) (0.211,9739) (0.325,10262) (0.519,10769) (0.842,11185) (0.923,11277) (0.987,12816) (1.069,16415) (1.111,19492) (1.198,20508) (1.295,21800) (1.321,22970) (1.392,23077) (2.297,23277) (2.362,23585) (2.588,24508) (2.718,24723) (4.011,24815) (4.205,25231) (4.302,26662) (4.431,26923) (4.884,27185) (4.932,27954) (4.964,30770) (5.029,34354) (5.143,36416) (5.337,37185) (5.369,38200) (5.498,38200) (5.579,41277) (5.676,42308) (5.951,42816) (6.031,46154) (6.306,46416) (6.403,47431) (6.452,48816) (7.018,49339) (7.147,50000) (7.211,51692) (7.244,51954) (7.664,52047) (7.955,52416) (8.052,53846) (8.133,55646) (8.337,55646)};
\end{axis}
% cumulated standard deviation (red line)
\begin{axis}[dat, at={(177pt,-891pt)}, anchor=south west, width=881pt, height=195pt,
  xmin=-0.1891, xmax=8.356, ymin=0, ymax=60]
\addplot[dred, line width=1.5pt] coordinates {(0,0) (0.002,5.4) (0.034,7.0) (0.082,12.6) (0.131,16.2) (0.211,20.0) (0.341,20.0) (0.519,21.6) (0.907,21.8) (0.972,23.4) (1.036,26.2) (1.117,29.2) (1.166,29.8) (1.327,31.4) (2.297,31.6) (2.459,32.4) (2.588,32.8) (4.011,33.1) (4.302,34.4) (4.884,34.6) (4.949,36.2) (5.110,40.1) (5.337,42.9) (5.434,43.4) (5.628,44.6) (5.951,45.4) (6.048,47.0) (6.209,47.0) (6.436,48.7) (6.985,49.5) (7.211,51.3) (7.987,51.9) (8.149,52.8) (8.337,52.8)};
\end{axis}

% bottom: left axis, cumulated flux
\begin{axis}[yax, at={(120pt,-890pt)}, anchor=south west, height=390pt,
  ymin=0, ymax=60000, axis y line*=left, ytick={0,20000,40000,60000},
  yticklabels={0,20000,40000,60000}, tick style={black},
  yticklabel style={font=\tkf, rotate=90, anchor=south}, yticklabel shift=4pt]
\end{axis}
% bottom: left axis, cumulated standard deviation
\begin{axis}[yax, at={(78pt,-891pt)}, anchor=south west, height=195pt,
  ymin=0, ymax=60, axis y line*=left, ytick={0,20,40,60},
  yticklabels={0,20,40,60}, axis line style={axred}, tick style={axred},
  yticklabel style={font=\tkf, text=axred}, yticklabel shift=2pt]
\end{axis}
% bottom: right axis, annual flux
\begin{axis}[yax, at={(1089pt,-890pt)}, anchor=south east, height=390pt,
  ymin=0, ymax=22000, axis y line*=right, ytick={0,5000,10000,15000,20000},
  yticklabels={0,5000,10000,15000,20000}, axis line style={axgray}, tick style={axgray},
  yticklabel style={font=\fontsize{16}{19}\selectfont, text=axgray, rotate=-90, anchor=south},
  yticklabel shift=12pt]
\end{axis}
% bottom: right axis, relative error
\begin{axis}[yax, at={(1138pt,-696pt)}, anchor=south east, height=196pt,
  ymin=0, ymax=0.3, y dir=reverse, axis y line*=right, ytick={0,0.1,0.2,0.3},
  yticklabels={0,0.1,0.2,0.3}, axis line style={axblue}, tick style={axblue},
  yticklabel style={font=\tkf, text=axblue}]
\end{axis}
% bottom: x axis
\begin{axis}[xax, at={(177pt,-897pt)}, anchor=south west, width=881pt, xmin=-0.1891, xmax=8.356]
\end{axis}

% ================= TEXT AND ANNOTATIONS =================
\node[font=\fontsize{24}{28}\selectfont\bfseries, anchor=base] at (610pt,-45pt) {Canyon - BB};
\node[rotate=90, font=\tkf] at (136pt,-252pt) {Suspended Sediment Flux (g m\textsuperscript{-2} s\textsuperscript{-1})};
\node[rotate=-90, font=\tkf, text=axred] at (1145pt,-252pt) {Standard Deviation (g m\textsuperscript{-2} s\textsuperscript{-1})};
\node[rotate=90, font=\fontsize{21.5}{25}\selectfont\bfseries] at (72pt,-153pt) {Down-canyon};
\node[rotate=90, font=\fontsize{21.5}{25}\selectfont\bfseries] at (73pt,-350pt) {Up-canyon};
\draw[line width=3pt, -{Triangle[width=19pt,length=20pt]}] (57pt,-238pt) -- (57pt,-60pt);
\draw[line width=3pt, -{Triangle[width=19pt,length=20pt]}] (57pt,-263pt) -- (57pt,-448pt);

\node[rotate=90, font=\tkf] at (136pt,-695pt) {Cumulated Flux (Kg m\textsuperscript{-2})};
\node[rotate=90, font=\tkf, text=axred] at (27pt,-793pt) {Cumulated Standard Deviation (Kgm\textsuperscript{-2})};
\node[rotate=-90, font=\fontsize{17}{20}\selectfont, text=axgray] at (1075pt,-700pt) {Annual Flux (Kg m\textsuperscript{-2})};
\node[rotate=-90, font=\tkf, text=axblue] at (1195pt,-600pt) {Relative Error (\%)};

\draw[line width=3pt] (8pt,-8pt) rectangle (1230pt,-960pt);
\end{tikzpicture}
\end{document}
